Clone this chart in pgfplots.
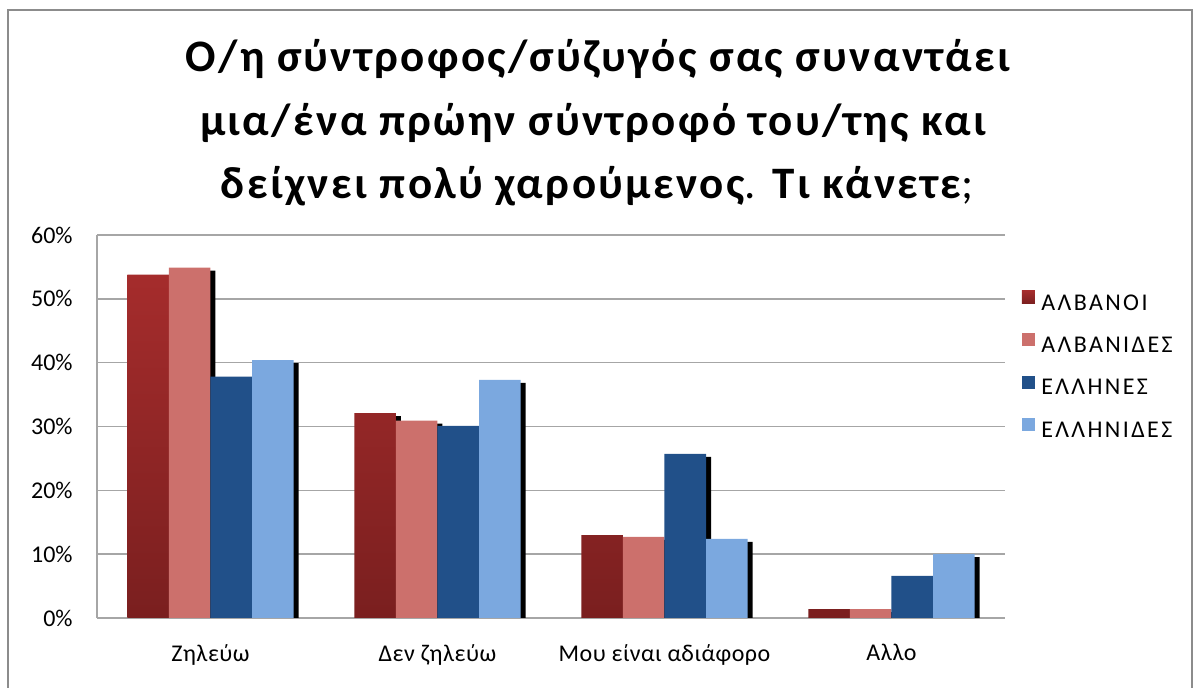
\documentclass[border=0pt]{standalone}
\usepackage{fontspec}
\setmainfont{Carlito}
\usepackage{pgfplots}
\usepackage{pgfplotstable}
\pgfplotsset{compat=1.18}
\definecolor{albtop}{HTML}{A52C2C}
\definecolor{albbot}{HTML}{7A1F1F}
\definecolor{albi}{HTML}{CC706C}
\definecolor{ell}{HTML}{215089}
\definecolor{elli}{HTML}{7BA8DF}
\definecolor{framegray}{HTML}{8C8C8C}
\definecolor{gridgray}{HTML}{A6A6A6}
% x: 0 Ζηλεύω, 1 Δεν ζηλεύω, 2 Μου είναι αδιάφορο, 3 Αλλο
\pgfplotstableread{
x y
0 53.8
1 32.1
2 13.0
3 1.4
}\albanoi
\pgfplotstableread{
x y
0 54.9
1 30.9
2 12.7
3 1.4
}\albanides
\pgfplotstableread{
x y
0 37.8
1 30.1
2 25.7
3 6.6
}\ellines
\pgfplotstableread{
x y
0 40.4
1 37.3
2 12.4
3 10.0
}\ellinides
\pgfplotsset{shadowbar/.style={ybar, bar width=0.183, draw=none, fill=black, forget plot,
  transform canvas={xshift=2.5pt,yshift=-1.5pt}}}
\begin{document}
\begin{tikzpicture}[x=1pt,y=1pt]
\useasboundingbox (-48.5,-35) rectangle (549.5,309);
\draw[framegray, line width=0.9pt] (-44.5,-40) rectangle (547.5,304);
\node[anchor=base, font=\fontsize{22.5}{27}\selectfont\bfseries\addfontfeatures{LetterSpace=5.2}] at (250.5,273) {Ο/η σύντροφος/σύζυγός σας συναντάει};
\node[anchor=base, font=\fontsize{22.5}{27}\selectfont\bfseries\addfontfeatures{LetterSpace=5.2}] at (248,241) {μια/ένα πρώην σύντροφό του/της και};
\node[anchor=base, font=\fontsize{22.5}{27}\selectfont\bfseries\addfontfeatures{LetterSpace=5.2}] at (250,209.5) {δείχνει πολύ χαρούμενος{\mdseries.} Τι κάνετε{\mdseries;}};
\begin{axis}[
  at={(0,0)}, anchor=south west, scale only axis,
  width=454pt, height=191.5pt,
  xmin=-0.5, xmax=3.5, ymin=0, ymax=60,
  ytick={0,10,...,60},
  yticklabel={\pgfmathprintnumber{\tick}\%},
  xtick={0,1,2,3},
  xticklabels={Ζηλεύω, Δεν ζηλεύω, Μου είναι αδιάφορο, Αλλο},
  axis x line*=bottom, axis y line*=left,
  axis line style={gridgray, line width=0.9pt},
  major tick length=0pt,
  ymajorgrids, grid style={gridgray, line width=0.75pt},
  tick label style={font=\fontsize{12}{14}\selectfont},
  xticklabel style={inner sep=0pt, yshift=-13pt, font=\fontsize{12}{14}\selectfont\addfontfeatures{LetterSpace=2}},
  yticklabel style={inner sep=0pt, xshift=-12pt},
  /pgf/number format/assume math mode=true,
  legend cell align=left,
  legend style={at={(axis description cs:1.0187,0.855)}, anchor=north west, draw=none, fill=none,
    inner sep=0pt, outer sep=0pt, row sep=8pt, column sep=1.2pt,
    font=\fontsize{12}{14}\selectfont\addfontfeatures{LetterSpace=10}},
]
\addplot[shadowbar, bar shift=-0.2745] table[x=x,y=y] {\albanoi};
\addplot[ybar, bar width=0.183, bar shift=-0.2745, draw=none, top color=albtop, bottom color=albbot,
  legend image code/.code={\shade[top color=albtop, bottom color=albbot] (0pt,0pt) rectangle (6.5pt,6.5pt);}]
  table[x=x,y=y] {\albanoi};
\addlegendentry{ΑΛΒΑΝΟΙ}
\addplot[shadowbar, bar shift=-0.0915] table[x=x,y=y] {\albanides};
\addplot[ybar, bar width=0.183, bar shift=-0.0915, draw=none, fill=albi,
  legend image code/.code={\fill[albi] (0pt,0pt) rectangle (6.5pt,6.5pt);}]
  table[x=x,y=y] {\albanides};
\addlegendentry{ΑΛΒΑΝΙΔΕΣ}
\addplot[shadowbar, bar shift=0.0915] table[x=x,y=y] {\ellines};
\addplot[ybar, bar width=0.183, bar shift=0.0915, draw=none, fill=ell,
  legend image code/.code={\fill[ell] (0pt,0pt) rectangle (6.5pt,6.5pt);}]
  table[x=x,y=y] {\ellines};
\addlegendentry{ΕΛΛΗΝΕΣ}
\addplot[shadowbar, bar shift=0.2745] table[x=x,y=y] {\ellinides};
\addplot[ybar, bar width=0.183, bar shift=0.2745, draw=none, fill=elli,
  legend image code/.code={\fill[elli] (0pt,0pt) rectangle (6.5pt,6.5pt);}]
  table[x=x,y=y] {\ellinides};
\addlegendentry{ΕΛΛΗΝΙΔΕΣ}
\end{axis}
\end{tikzpicture}
\end{document}
